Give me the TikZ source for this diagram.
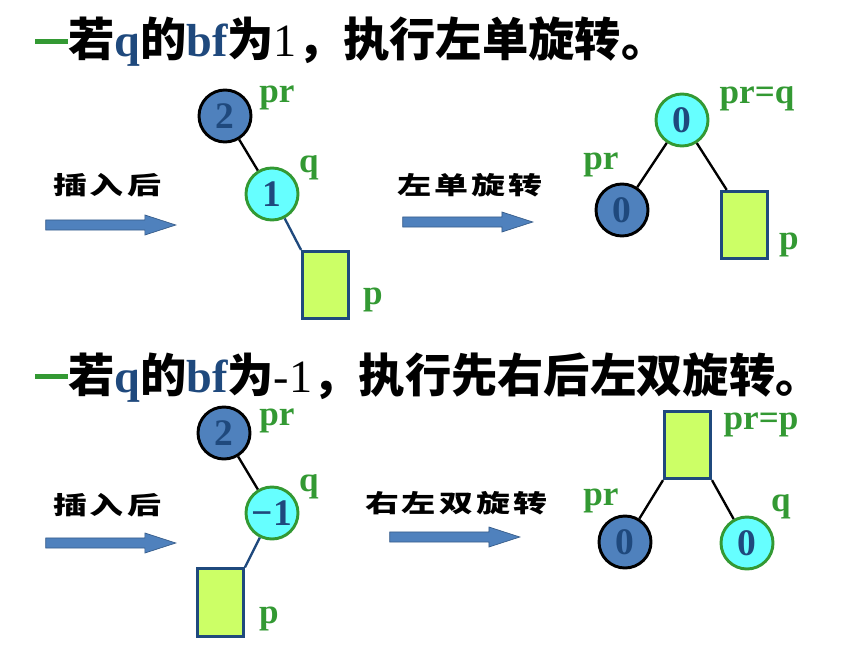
\documentclass[tikz,border=0pt]{standalone}
\usepackage{fontspec}
\usepackage{graphicx}
\usetikzlibrary{positioning, shapes.arrows}

\setmainfont{Liberation Serif}
\newfontfamily\cjk{Noto Sans CJK SC}
\newfontfamily\wcjk[LetterSpace=9]{Noto Sans CJK SC}

\definecolor{navy}{HTML}{1F497D}
\definecolor{nodeblue}{HTML}{4F81BD}
\definecolor{arrowline}{HTML}{385D8A}
\definecolor{cyanfill}{HTML}{66FFFF}
\definecolor{tgreen}{HTML}{339933}
\definecolor{lime}{HTML}{CCFF66}

\newcommand{\blu}[1]{\textcolor{navy}{\rmfamily\bfseries #1}}
\newcommand{\greendash}{\textcolor{tgreen}{\rule[0.28em]{0.99cm}{0.15cm}}}
\newcommand{\wide}[1]{\scalebox{1.38}[1]{#1}}

\begin{document}
\begin{tikzpicture}[
        x=0.03cm, y=-0.03cm,
        darknode/.style={circle, draw=black, line width=2.5pt, fill=nodeblue, text=navy, minimum size=1.56cm, inner sep=0pt, font=\bfseries\fontsize{32}{32}\selectfont},
        cyannode/.style={darknode, draw=tgreen, fill=cyanfill},
        leafbox/.style={rectangle, draw=navy, line width=2.5pt, fill=lime, minimum width=1.38cm, minimum height=2.02cm, inner sep=0pt},
        ptrlabel/.style={text=tgreen, inner sep=0pt, font=\bfseries\fontsize{30}{30}\selectfont},
        actlabel/.style={inner sep=0pt, font=\wcjk\bfseries\fontsize{21}{21}\selectfont},
        blockarrow/.style={single arrow, draw=arrowline, line width=0.6pt, fill=nodeblue, minimum height=3.9cm, inner xsep=0pt, inner ysep=0.14cm, single arrow head extend=0.15cm, single arrow tip angle=36},
        headline/.style={anchor=base west, inner sep=0pt, font=\cjk\bfseries\fontsize{39.5}{39.5}\selectfont},
        link/.style={line width=2pt}
    ]
    \useasboundingbox (0,0) rectangle (842,646);

    % Titles
    \node[headline] (head1) at (35,57) {\greendash 若\blu{q}的\blu{bf}为{\rmfamily\mdseries 1}，执行左单旋转。};
    \node[headline] (head2) at (35,392) {\greendash 若\blu{q}的\blu{bf}为{\rmfamily\mdseries -1}，执行先右后左双旋转。};

    % Left single rotation: before
    \node[darknode] (a2) at (225,116) {2};
    \node[cyannode] (a1) at (272,194) {1};
    \node[leafbox] (ap) at (325.5,285) {};
    \node[ptrlabel] (apr) at (277,98) {pr};
    \node[ptrlabel] (aq) at (309,168) {q};
    \node[ptrlabel] (apl) at (373,300) {p};

    \node[blockarrow] (arr1) at (103,225) {};
    \node[actlabel] (act1) at (107,185) {\wide{插入后}};

    % Left single rotation: after
    \node[cyannode] (b0) at (682,120) {0};
    \node[darknode] (bl) at (622,210) {0};
    \node[leafbox] (bp) at (744.5,225) {};
    \node[ptrlabel] (bprq) at (757,99) {pr=q};
    \node[ptrlabel] (bpr) at (601,165) {pr};
    \node[ptrlabel] (bpl) at (789,245) {p};

    \node[blockarrow] (arr2) at (460,222) {};
    \node[actlabel] (act2) at (470,185) {\wide{左单旋转}};

    % Right-left double rotation: before
    \node[darknode] (c2) at (224,433) {2};
    \node[cyannode] (c1) at (272,513) {−1};
    \node[leafbox] (cp) at (220.5,602.5) {};
    \node[ptrlabel] (cpr) at (277,421) {pr};
    \node[ptrlabel] (cq) at (309,487) {q};
    \node[ptrlabel] (cpl) at (269,619) {p};

    \node[blockarrow] (arr3) at (103,543) {};
    \node[actlabel] (act3) at (107,505) {\wide{插入后}};

    % Right-left double rotation: after
    \node[leafbox] (dp) at (687.5,445) {};
    \node[darknode] (dl) at (625,542) {0};
    \node[cyannode] (dr) at (747,543) {0};
    \node[ptrlabel] (dprp) at (761,425) {pr=p};
    \node[ptrlabel] (dpr) at (601,501) {pr};
    \node[ptrlabel] (dq) at (781,507) {q};

    \node[blockarrow] (arr4) at (447,537) {};
    \node[actlabel] (act4) at (456,503) {\wide{右左双旋转}};

    % Links
    \draw[link] (a2) -- (a1);
    \draw[link, navy] (a1) -- (ap.north west);
    \draw[link] (b0) -- (bl);
    \draw[link] (b0) -- ([xshift=0.2cm]bp.north west);
    \draw[link] (c2) -- (c1);
    \draw[link, navy] (c1) -- (cp.north east);
    \draw[link] (dp.south west) -- (dl);
    \draw[link] (dp.south east) -- (dr);
\end{tikzpicture}
\end{document}
